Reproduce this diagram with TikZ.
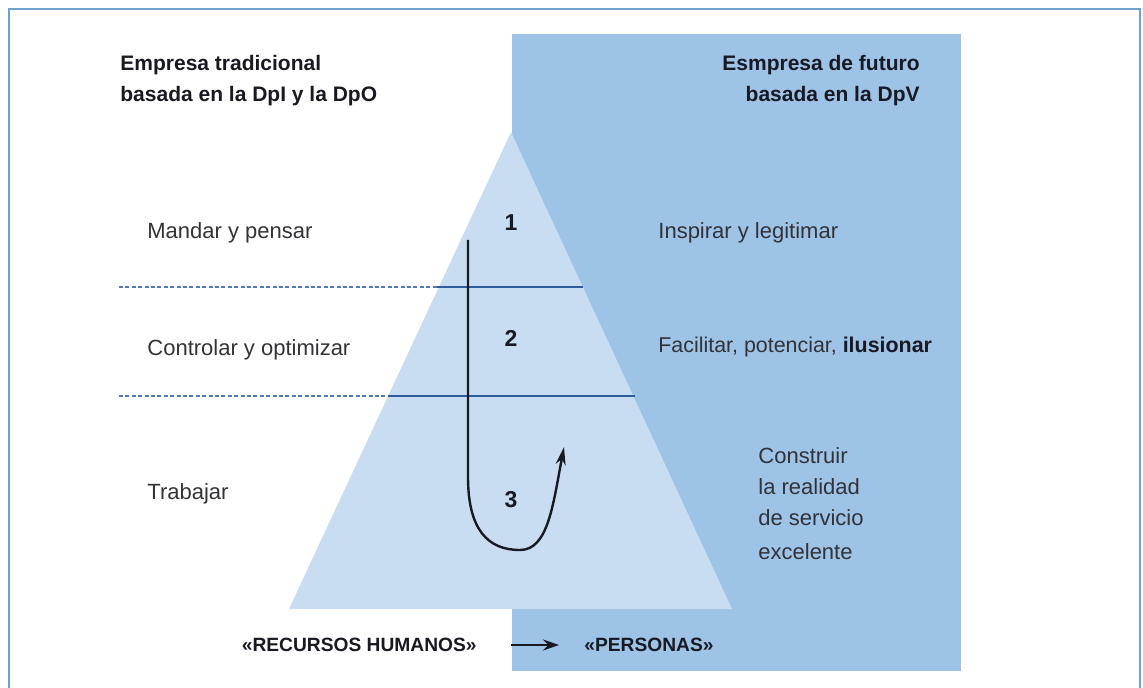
\documentclass[tikz,border=0pt]{standalone}
\usepackage{fontspec}
\setmainfont{Liberation Sans}
\usetikzlibrary{arrows.meta}
\definecolor{frameblue}{RGB}{110,160,210}
\definecolor{darkpanel}{RGB}{157,195,230}
\definecolor{lighttri}{RGB}{200,221,242}
\definecolor{lineblue}{RGB}{46,92,154}
\definecolor{dashblue}{RGB}{80,120,190}
\definecolor{txt}{RGB}{50,50,55}
\definecolor{btxt}{RGB}{25,25,35}
\tikzset{
  plain/.style={font=\fontsize{11}{13}\selectfont, text=txt, inner sep=0pt},
  title/.style={font=\fontsize{10.5}{12}\selectfont\bfseries, text=btxt, inner sep=0pt},
  bottomlbl/.style={font=\fontsize{9.6}{12}\selectfont\bfseries, text=btxt, inner sep=0pt},
  num/.style={font=\fontsize{11.5}{13}\selectfont\bfseries, text=btxt, inner sep=0pt},
  sepsolid/.style={draw=lineblue, line width=0.8pt},
  sepdash/.style={draw=dashblue, line width=0.6pt, dash pattern=on 2pt off 1.2pt},
}
\begin{document}
\begin{tikzpicture}[x=0.5pt,y=-0.5pt]
\useasboundingbox (0,0) rectangle (1143,688);
% frame
\draw[frameblue, line width=1.2pt] (9,690) -- (9,9) -- (1140,9) -- (1140,690);
% dark panel
\fill[darkpanel] (512,34) rectangle (961,671);
% triangle
\fill[lighttri] (511,132) -- (732,609) -- (289,609) -- cycle;
% separators
\coordinate (d1a) at (119,287); \coordinate (d1b) at (437,287); \coordinate (d1c) at (583,287);
\coordinate (d2a) at (119,396); \coordinate (d2b) at (388,396); \coordinate (d2c) at (635,396);
\draw[sepdash] (d1a) -- (d1b);
\draw[sepsolid] (d1b) -- (d1c);
\draw[sepdash] (d2a) -- (d2b);
\draw[sepsolid] (d2b) -- (d2c);
% titles
\node[title, anchor=base west] (tl1) at (120,71) {Empresa tradicional};
\node[title, anchor=base west] (tl2) at (120,102) {basada en la DpI y la DpO};
\node[title, anchor=base east] (tr1) at (920,71) {Esmpresa de futuro};
\node[title, anchor=base east] (tr2) at (920,102) {basada en la DpV};
% left labels
\node[plain, anchor=west] (l1) at (147,233) {Mandar y pensar};
\node[plain, anchor=west] (l2) at (147,350) {Controlar y optimizar};
\node[plain, anchor=west] (l3) at (147,494) {Trabajar};
% right labels
\node[plain, anchor=west] (r1) at (658,233) {Inspirar y legitimar};
\node[plain, anchor=west, font=\fontsize{10.7}{13}\selectfont] (r2) at (658,347) {Facilitar, potenciar, \textbf{\color{btxt}ilusionar}};
\node[plain, anchor=west] (r3a) at (758,456) {Construir};
\node[plain, anchor=west] (r3b) at (758,487) {la realidad};
\node[plain, anchor=west] (r3c) at (758,518) {de servicio};
\node[plain, anchor=west] (r3d) at (758,552) {excelente};
% numbers
\node[num] (n1) at (511,223) {1};
\node[num] (n2) at (511,338) {2};
\node[num] (n3) at (511,500) {3};
% U-turn arrow
\coordinate (ustart) at (468,240);
\coordinate (ubend) at (468,477);
\coordinate (ubot) at (520,550);
\coordinate (uend) at (564,447);
\draw[line width=1.2pt, btxt, -{Stealth[length=9pt,width=5pt]}]
  (ustart) -- (ubend) .. controls (468,530) and (488,550) .. (ubot)
  .. controls (548,550) and (553,505) .. (uend);
% bottom
\node[bottomlbl, anchor=east] (rh) at (477,645) {\guillemotleft RECURSOS HUMANOS\guillemotright};
\node[bottomlbl, anchor=west] (pe) at (584,645) {\guillemotleft PERSONAS\guillemotright};
\draw[btxt, line width=1pt, -{Stealth[length=8pt,width=5.5pt]}] (511,645) -- (559,645);
\end{tikzpicture}
\end{document}
